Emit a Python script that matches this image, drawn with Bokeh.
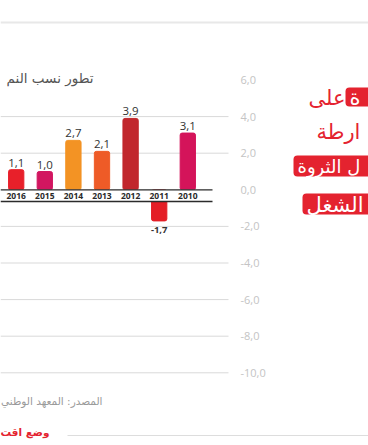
from bokeh.plotting import figure
from bokeh.models import Range1d, ColumnDataSource
from bokeh.core.properties import value
from bokeh.embed import file_html
from bokeh.resources import INLINE

# ---- data ----
years = ["2016", "2015", "2014", "2013", "2012", "2011", "2010"]
growth = [1.1, 1.0, 2.7, 2.1, 3.9, -1.7, 3.1]
bar_colors = ["#e8202a", "#d21660", "#f39324", "#ee5b27", "#c1272d", "#e41e26", "#d4145a"]
tick_values = [6, 4, 2, 0, -2, -4, -6, -8, -10]
grid_values = [4, 2, -2, -4, -6, -8, -10]

title_text = "تطور نسب النم"
source_text = "المصدر: المعهد الوطني"
footer_text = "وضع اقت"
head_box1 = "ة"
head_line1 = "على"
head_line2 = "ارطة"
head_box3 = "ل الثروة"
head_box4 = "الشغل"

def fmt(v):
    return f"{v:.1f}".replace(".", ",")

# ---- layout helpers (picture pixel -> data units) ----
SLOT = 28.6
X0 = 15.7
UNIT = 18.3
Y0 = 189.3
def fx(px):
    return (px - X0) / SLOT
def fy(py):
    return (Y0 - py) / UNIT

W, H = 368, 445
p = figure(width=W, height=H, output_backend="svg", toolbar_location=None,
           x_range=Range1d(fx(0), fx(W)), y_range=Range1d(fy(H), fy(0)),
           x_axis_location=None, y_axis_location=None, min_border=0)
p.grid.visible = False
p.outline_line_color = None
p.background_fill_color = "white"
p.border_fill_color = "white"

xs = list(range(len(years)))
src = ColumnDataSource(dict(x=xs, top=growth, color=bar_colors, year=years))

# top rule
p.segment(x0=[fx(0)], y0=[fy(22)], x1=[fx(W)], y1=[fy(22)], line_color="#e8e8e8", line_width=2)

# gridlines
p.segment(x0=[fx(0)] * len(grid_values), y0=grid_values,
          x1=[fx(228)] * len(grid_values), y1=grid_values,
          line_color="#d9d9d9", line_width=1)

# bars
p.vbar(x="x", top="top", bottom=0, width=0.535, color="color", source=src, border_radius=2)

# year band
band_low = fy(201)
p.quad(left=[fx(0)], right=[fx(212)], top=[0], bottom=[band_low], fill_color="white", line_color=None)
p.segment(x0=[fx(0), fx(0)], y0=[0, band_low], x1=[fx(212), fx(212)], y1=[0, band_low],
          line_color="#2b2b2b", line_width=1.3)
p.text(x="x", y=(0 + band_low) / 2, text="year", source=src, text_align="center",
       text_baseline="middle", text_font=value("Open Sans"), text_font_size="8.5px",
       text_color="#2a2a2a", text_font_style="bold")

# value labels
pos = ColumnDataSource(dict(x=[x for x, v in zip(xs, growth) if v >= 0],
                            y=[v for v in growth if v >= 0],
                            t=[fmt(v) for v in growth if v >= 0]))
neg = ColumnDataSource(dict(x=[x for x, v in zip(xs, growth) if v < 0],
                            y=[v for v in growth if v < 0],
                            t=[fmt(v) for v in growth if v < 0]))
p.text(x="x", y="y", text="t", source=pos, text_align="center", text_baseline="bottom",
       y_offset=-3, text_font=value("Open Sans"), text_font_size="11.5px", text_color="#333333")
p.text(x="x", y="y", text="t", source=neg, text_align="center", text_baseline="top",
       y_offset=6, text_font=value("Open Sans"), text_font_size="9.5px", text_color="#333333",
       text_font_style="bold")

# y tick labels
p.text(x=[fx(240)] * len(tick_values), y=tick_values, text=[fmt(v) for v in tick_values],
       text_align="left", text_baseline="middle", text_font=value("Open Sans"),
       text_font_size="11px", text_color="#c4c4c4")

# title, source, footer
p.text(x=[fx(93)], y=[fy(77)], text=[title_text], text_align="right", text_baseline="middle",
       text_font=value("DejaVu Sans"), text_font_size="13.5px", text_color="#555555")
p.text(x=[fx(102)], y=[fy(400)], text=[source_text], text_align="right", text_baseline="middle",
       text_font=value("DejaVu Sans"), text_font_size="10.5px", text_color="#9a9a9a")
p.text(x=[fx(49)], y=[fy(431)], text=[footer_text], text_align="right", text_baseline="middle",
       text_font=value("DejaVu Sans"), text_font_size="10.5px", text_color="#e4232f",
       text_font_style="bold")
p.segment(x0=[fx(67)], y0=[fy(435)], x1=[fx(W)], y1=[fy(435)], line_color="#dddddd", line_width=1)

# headline on the right
RED = "#e4232f"
p.quad(left=[fx(345), fx(293), fx(302)], right=[fx(W + 10)] * 3,
       top=[fy(87), fy(155), fy(193)], bottom=[fy(106), fy(176), fy(214)],
       fill_color=RED, line_color=None, border_radius=4)
p.text(x=[fx(349)], y=[fy(97)], text=[head_box1], text_align="left", text_baseline="middle",
       text_font=value("DejaVu Sans"), text_font_size="21px", text_color="white")
p.text(x=[fx(345)], y=[fy(97)], text=[head_line1], text_align="right", text_baseline="middle",
       text_font=value("DejaVu Sans"), text_font_size="21px", text_color=RED)
p.text(x=[fx(316)], y=[fy(131)], text=[head_line2], text_align="left", text_baseline="middle",
       text_font=value("DejaVu Sans"), text_font_size="21px", text_color=RED)
p.text(x=[fx(297)], y=[fy(166)], text=[head_box3], text_align="left", text_baseline="middle",
       text_font=value("DejaVu Sans"), text_font_size="18px", text_color="white")
p.text(x=[fx(306)], y=[fy(204)], text=[head_box4], text_align="left", text_baseline="middle",
       text_font=value("DejaVu Sans"), text_font_size="21px", text_color="white")

open("out.html", "w").write(file_html(p, INLINE))
